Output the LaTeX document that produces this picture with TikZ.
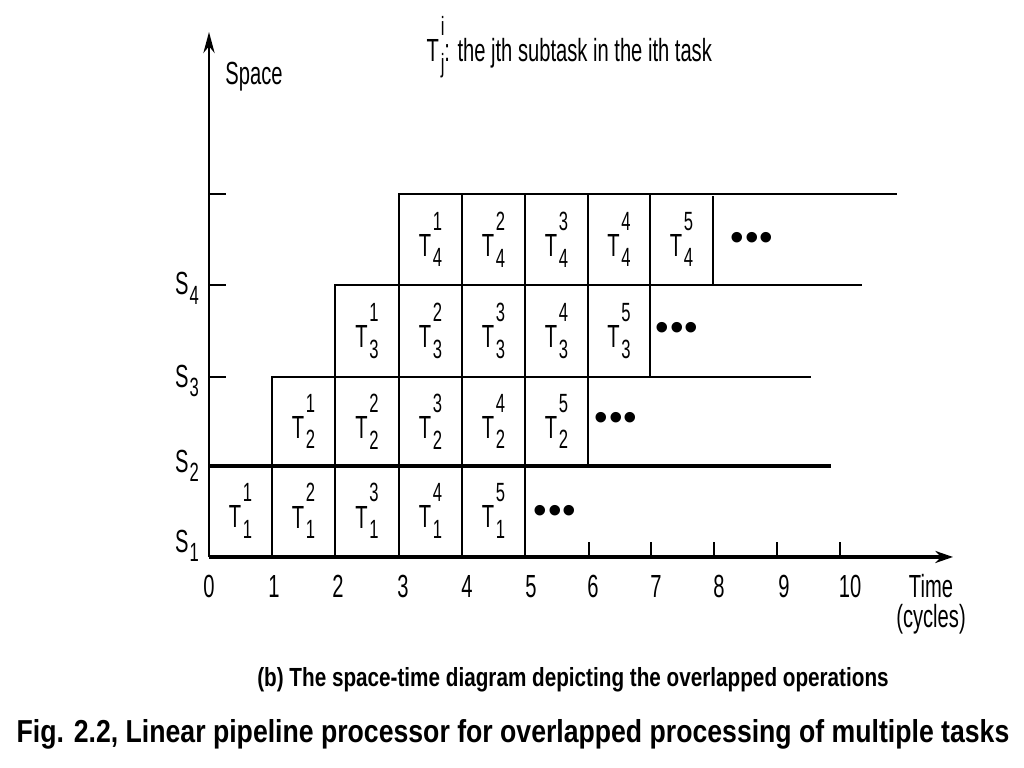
\documentclass[tikz,border=0pt]{standalone}
\usepackage{fontspec}
\setmainfont{Liberation Sans}[FakeStretch=0.63]
\newfontfamily\capfont{Liberation Sans}
\newfontfamily\dotfont{Liberation Sans}
\usetikzlibrary{arrows.meta}
\newcommand{\subsz}{\fontsize{7.5}{8}\selectfont}
\newcommand{\Tcell}[2]{T\rlap{\kern0.5pt\raisebox{0.82em}{\subsz #1}}\kern0.5pt\raisebox{-0.33em}{\subsz #2}}
\newcommand{\Slab}[1]{S\kern0.3pt\raisebox{-0.3em}{\subsz #1}}
\newcommand{\tdots}{{\dotfont\fontsize{11}{12}\selectfont\textbullet\kern0.2pt\textbullet\kern0.2pt\textbullet}}
\begin{document}
\begin{tikzpicture}[x=0.01cm,y=-0.01cm,
  every node/.style={inner sep=0pt,font=\fontsize{9.1}{10}\selectfont},
  gridline/.style={line width=0.6pt,line cap=rect},
  heavyline/.style={line width=1.15pt},
  axisline/.style={line width=1.15pt,-{Stealth[length=5pt,width=3.4pt]}},
  yaxisline/.style={line width=0.7pt,-{Stealth[length=6pt,width=3.2pt]}},
  ticklabel/.style={anchor=base},
  cell/.style={},
  dotnode/.style={},
  caption/.style={anchor=base}]
\fill[white] (0,0) rectangle (1024,768);
\useasboundingbox (0,0) rectangle (1024,768);
% axes
\coordinate (O) at (209,557);
\coordinate (ytop) at (209,32);
\coordinate (xend) at (953,557);
\draw[yaxisline] (O) -- (ytop);
\draw[axisline] (O) -- (xend);
% horizontal stage lines
\draw[gridline] (399,194) -- (896,194);
\draw[gridline] (335,285) -- (861,285);
\draw[gridline] (272,377) -- (810,377);
\draw[heavyline] (209,466) -- (831,466);
% y ticks
\foreach \y in {194,285,377} \draw[gridline] (209,\y) -- (225,\y);
% vertical cell lines
\foreach \x/\t/\b in {272/377/557, 335/285/557, 399/194/557, 462/194/557, 525/194/557, 588/194/466, 650/194/377, 713/197/285}
  \draw[gridline] (\x,\t) -- (\x,\b);
% x ticks
\foreach \x in {589,651,714,777,840} \draw[gridline] (\x,557) -- (\x,543);
% tick labels
\foreach \x/\l in {209/0,274/1,338/2,403/3,467/4,531/5,593/6,656/7,719/8,784/9,850/10}
  \node[ticklabel] (t\l) at (\x,598) {\l};
\node[ticklabel] (time) at (931,598) {Time};
\node (cyc) at (931,619) {(cycles)};
\node (space) at (254,77) {Space};
% stage labels
\node (s1) at (187,546) {\Slab{1}};
\node (s2) at (187,466) {\Slab{2}};
\node (s3) at (187,381) {\Slab{3}};
\node (s4) at (187,288.5) {\Slab{4}};
% cells, stage 1
\node[cell] (c11) at (240.5,511) {\Tcell{1}{1}};
\node[cell] (c12) at (303.5,511) {\Tcell{2}{1}};
\node[cell] (c13) at (367,511) {\Tcell{3}{1}};
\node[cell] (c14) at (430.5,511) {\Tcell{4}{1}};
\node[cell] (c15) at (493.5,511) {\Tcell{5}{1}};
% stage 2
\node[cell] (c21) at (303.5,421.5) {\Tcell{1}{2}};
\node[cell] (c22) at (367,421.5) {\Tcell{2}{2}};
\node[cell] (c23) at (430.5,421.5) {\Tcell{3}{2}};
\node[cell] (c24) at (493.5,421.5) {\Tcell{4}{2}};
\node[cell] (c25) at (556.5,421.5) {\Tcell{5}{2}};
% stage 3
\node[cell] (c31) at (367,331) {\Tcell{1}{3}};
\node[cell] (c32) at (430.5,331) {\Tcell{2}{3}};
\node[cell] (c33) at (493.5,331) {\Tcell{3}{3}};
\node[cell] (c34) at (556.5,331) {\Tcell{4}{3}};
\node[cell] (c35) at (619,331) {\Tcell{5}{3}};
% stage 4
\node[cell] (c41) at (430.5,239.5) {\Tcell{1}{4}};
\node[cell] (c42) at (493.5,239.5) {\Tcell{2}{4}};
\node[cell] (c43) at (556.5,239.5) {\Tcell{3}{4}};
\node[cell] (c44) at (619,239.5) {\Tcell{4}{4}};
\node[cell] (c45) at (681.5,239.5) {\Tcell{5}{4}};
% continuation dots
\node[dotnode] (d1) at (555,514) {\tdots};
\node[dotnode] (d2) at (616,421) {\tdots};
\node[dotnode] (d3) at (677,331) {\tdots};
\node[dotnode] (d4) at (752,241) {\tdots};
% legend
\node[anchor=base west] (legend) at (426,62) {\Tcell{i}{j}: the jth subtask in the ith task};
% captions
\node[caption] (capb) at (573,687) {\resizebox{6.31cm}{0.19cm}{\capfont\bfseries (b) The space-time diagram depicting the overlapped operations}};
\node[caption] (fig) at (513,743) {\resizebox{9.92cm}{0.23cm}{\capfont\bfseries Fig. 2.2, Linear pipeline processor for overlapped processing of multiple tasks}};
\end{tikzpicture}
\end{document}
